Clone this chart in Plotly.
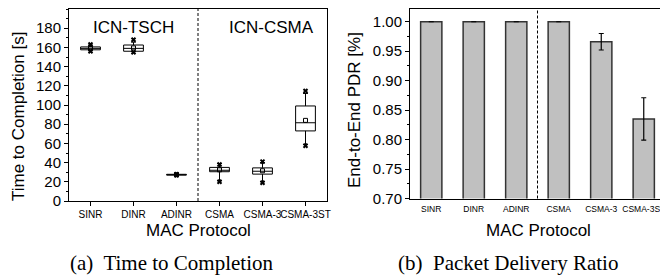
import plotly.graph_objects as go

# ---------------- data ----------------
categories = ["SINR", "DINR", "ADINR", "CSMA", "CSMA-3", "CSMA-3ST"]
n_tsch = 3  # first three protocols belong to ICN-TSCH

# (a) Time to completion box statistics [s]
ttc_q1 = [157.5, 156.0, 27.0, 30.5, 28.0, 73.0]
ttc_median = [159.0, 159.0, 27.3, 32.0, 31.0, 81.5]
ttc_q3 = [160.5, 162.5, 27.8, 35.0, 34.5, 99.0]
ttc_lower = [156.5, 155.5, 26.8, 21.0, 20.0, 59.0]
ttc_upper = [162.5, 165.5, 28.0, 39.0, 40.0, 112.0]
ttc_mean = [159.0, 159.5, 27.4, 32.5, 31.5, 84.0]
ttc_min = [156.0, 155.0, 26.8, 20.0, 19.0, 57.5]
ttc_max = [163.0, 168.0, 28.0, 38.0, 41.0, 114.5]

# (b) End-to-end PDR
pdr = [1.0, 1.0, 1.0, 1.0, 0.966, 0.835]
pdr_err = [0.0, 0.0, 0.0, 0.0, 0.014, 0.036]

xpos = list(range(len(categories)))

FONT = "Arial, Liberation Sans, sans-serif"
SERIF = "Times New Roman, Liberation Serif, serif"

# page has an 8px body margin; figure is laid out in page pixels shifted by it
OFF = 8
W, H = 668 - OFF, 280 - OFF


def px(x):
    return (x - OFF) / W


def py(y):
    return 1 - (y - OFF) / H


fig = go.Figure()

# box plot
fig.add_trace(go.Box(
    x=xpos, q1=ttc_q1, median=ttc_median, q3=ttc_q3,
    lowerfence=ttc_lower, upperfence=ttc_upper,
    width=0.46, whiskerwidth=0.25,
    line=dict(color="black", width=1), fillcolor="white",
    boxpoints=False, xaxis="x", yaxis="y", showlegend=False,
))
# mean markers
fig.add_trace(go.Scatter(
    x=xpos, y=ttc_mean, mode="markers",
    marker=dict(symbol="square-open", size=4, color="black", line=dict(width=1)),
    xaxis="x", yaxis="y", showlegend=False,
))
# extremes
fig.add_trace(go.Scatter(
    x=xpos + xpos, y=ttc_min + ttc_max, mode="markers",
    marker=dict(symbol="x-thin-open", size=4, color="black", line=dict(width=2, color="black")),
    xaxis="x", yaxis="y", showlegend=False,
))

# bars
fig.add_trace(go.Bar(
    x=xpos, y=pdr, width=0.5,
    marker=dict(color="#c0c0c0", line=dict(color="#333333", width=1.5)),
    error_y=dict(type="data", array=pdr_err, visible=True, color="black", thickness=1.2, width=2.5),
    xaxis="x2", yaxis="y2", showlegend=False,
))

xd1 = [px(69), px(327)]
xd2 = [px(410), px(665)]
yd1 = [py(201), py(9)]
yd2 = [py(198.5), py(9)]
xr = [-0.5, len(categories) - 0.5]

tickf = dict(family=FONT, size=15, color="black")
catf1 = dict(family=FONT, size=10, color="black")
catf2 = dict(family=FONT, size=8.5, color="black")

common_x = dict(range=xr, tickmode="array", tickvals=xpos, showgrid=False, zeroline=False,
                showline=True, linecolor="black", linewidth=1, mirror=True, tickangle=0,
                automargin=False, ticklabeloverflow="allow")

fig.update_layout(
    width=W, height=H,
    margin=dict(l=0, r=0, t=0, b=0),
    paper_bgcolor="white", plot_bgcolor="white",
    barmode="overlay",
    xaxis=dict(common_x, domain=xd1, anchor="y", ticktext=categories, ticks="outside",
               ticklen=4, tickcolor="black", tickfont=catf1),
    yaxis=dict(domain=yd1, anchor="x", range=[0, 200], tickvals=list(range(0, 181, 20)),
               ticks="outside", ticklen=4, tickcolor="black", tickfont=tickf,
               minor=dict(dtick=10, ticks="outside", ticklen=2, tickcolor="black"),
               showgrid=False, zeroline=False, showline=True, linecolor="black",
               linewidth=1, mirror=True, automargin=False),
    xaxis3=dict(range=xr, overlaying="x", side="top", anchor="y", tickmode="array",
                tickvals=xpos, ticks="inside", ticklen=4, tickcolor="black",
                showticklabels=False, showgrid=False, zeroline=False),
    yaxis3=dict(range=[0, 200], overlaying="y", side="right", anchor="x",
                tickvals=list(range(0, 181, 20)), ticks="inside", ticklen=4, tickcolor="black",
                minor=dict(dtick=10, ticks="inside", ticklen=2, tickcolor="black"),
                showticklabels=False, showgrid=False, zeroline=False),
    xaxis2=dict(common_x, domain=xd2, anchor="y2", ticktext=categories, ticks="",
                tickfont=catf2, ticklabelstandoff=2),
    yaxis2=dict(domain=yd2, anchor="x2", range=[0.7, 1.0216],
                tickvals=[0.70, 0.75, 0.80, 0.85, 0.90, 0.95, 1.00], tickformat=".2f",
                ticks="outside", ticklen=4, tickcolor="black", tickfont=tickf,
                minor=dict(dtick=0.025, ticks="outside", ticklen=2, tickcolor="black"),
                showgrid=False, zeroline=False, showline=True, linecolor="black",
                linewidth=1, mirror=True, automargin=False),
    xaxis4=dict(range=xr, overlaying="x2", side="top", anchor="y2", tickmode="array",
                tickvals=xpos, ticks="inside", ticklen=4, tickcolor="black",
                showticklabels=False, showgrid=False, zeroline=False),
    yaxis4=dict(range=[0.7, 1.0216], overlaying="y2", side="right", anchor="x2",
                tickvals=[0.70, 0.75, 0.80, 0.85, 0.90, 0.95, 1.00], ticks="inside",
                ticklen=4, tickcolor="black",
                minor=dict(dtick=0.025, ticks="inside", ticklen=2, tickcolor="black"),
                showticklabels=False, showgrid=False, zeroline=False),
)

sep = n_tsch - 0.5
for xref, yref in (("x", "y"), ("x2", "y2")):
    fig.add_shape(type="line", xref=xref, yref=yref + " domain", x0=sep, x1=sep, y0=0, y1=1,
                  line=dict(color="black", width=1, dash="3px,2px"))

titlef = dict(family=FONT, size=17, color="black")
capf = dict(family=SERIF, size=21, color="black")
C = dict(xanchor="center", yanchor="middle", showarrow=False)
ann = [
    dict(C, text="ICN-TSCH", x=1, y=181, xref="x", yref="y", font=titlef),
    dict(C, text="ICN-CSMA", x=4.2, y=181, xref="x", yref="y", font=titlef),
    dict(C, text="MAC Protocol", x=px(199), y=py(230), xref="paper", yref="paper", font=titlef),
    dict(C, text="MAC Protocol", x=px(538.5), y=py(230), xref="paper", yref="paper", font=titlef),
    dict(C, text="Time to Completion [s]", x=px(18), y=py(117), xref="paper",
         yref="paper", textangle=-90, font=titlef),
    dict(C, text="End-to-End PDR [%]", x=px(354), y=py(110), xref="paper",
         yref="paper", textangle=-90, font=titlef),
    dict(C, text="(a)  Time to Completion", x=px(172), y=py(263), xref="paper",
         yref="paper", font=capf),
    dict(C, text="(b)  Packet Delivery Ratio", x=px(508), y=py(263), xref="paper",
         yref="paper", font=capf),
]
fig.update_layout(annotations=ann)

fig.write_html("out.html")
